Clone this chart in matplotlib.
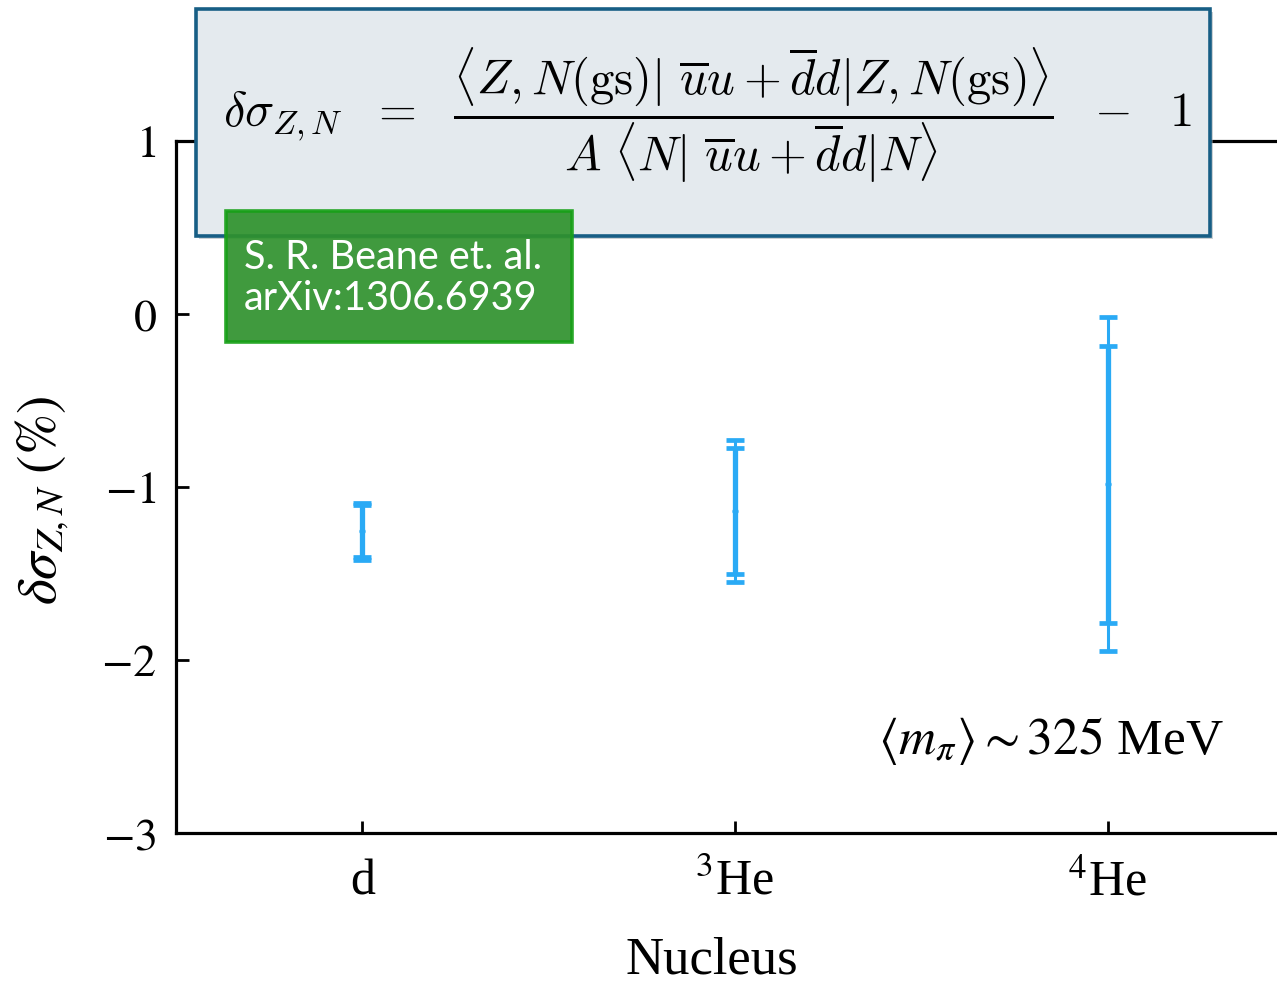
import matplotlib
matplotlib.use("Agg")
import matplotlib.pyplot as plt
from matplotlib.patches import FancyBboxPatch

plt.rcParams['font.family'] = 'serif'
plt.rcParams['font.serif'] = ['Liberation Serif', 'DejaVu Serif']
plt.rcParams['mathtext.fontset'] = 'stix'

# sigma-term shift per nucleus, lattice QCD at m_pi ~ 325 MeV
nuclei = ['d', r'$^{3}$He', r'$^{4}$He']
positions = [1, 2, 3]
shift = [-1.255, -1.14, -0.985]
stat_err = [0.15, 0.365, 0.80]
total_err = [0.165, 0.41, 0.965]

BLUE = '#2aaaf5'

fig = plt.figure(figsize=(12.77, 9.83), dpi=100)
ax = fig.add_axes([0.1378, 0.1526, 0.8755, 0.704])

# outer (total) and inner (statistical) error bars
ax.errorbar(positions, shift, yerr=total_err, fmt='none', ecolor=BLUE,
            elinewidth=2.2, capsize=6.5, capthick=3.4, zorder=3)
ax.errorbar(positions, shift, yerr=stat_err, fmt='o', color=BLUE, ms=3.5,
            ecolor=BLUE, elinewidth=3.8, capsize=6.5, capthick=3.4, zorder=4)

ax.set_xlim(0.5, 3.5)
ax.set_ylim(-3, 1)
ax.set_xticks(positions)
ax.set_xticklabels(nuclei)
ax.set_yticks([-3, -2, -1, 0, 1])
ax.set_yticklabels([r'$-3$', r'$-2$', r'$-1$', r'$0$', r'$1$'])
ax.tick_params(direction='in', length=9, width=2, labelsize=33, pad=14)
ax.tick_params(axis='x', labelsize=36, pad=19)
for side in ['left', 'bottom', 'top']:
    ax.spines[side].set_linewidth(2.3)
ax.spines['right'].set_visible(False)

ax.set_xlabel('Nucleus', fontsize=38)
ax.xaxis.set_label_coords(0.479, -0.150)
ax.set_ylabel(r'$\delta\sigma_{Z,N}\ (\%)$', fontsize=40)
ax.yaxis.set_label_coords(-0.094, 0.481)

ax.text(3.31, -2.47, r'$\langle m_\pi\rangle \sim 325$ MeV', fontsize=37,
        ha='right', va='center')

# definition box
shadow = FancyBboxPatch((0.1555, 0.757), 0.794, 0.231, boxstyle='square,pad=0',
                        transform=fig.transFigure, facecolor='#9aa4ab',
                        edgecolor='none', alpha=0.5, zorder=9)
fig.patches.append(shadow)
box = FancyBboxPatch((0.1535, 0.760), 0.794, 0.231, boxstyle='square,pad=0',
                     transform=fig.transFigure, facecolor='#e4eaee',
                     edgecolor='#175e85', linewidth=2.6, zorder=10)
fig.patches.append(box)
formula = (r'$\delta\sigma_{Z,N}\ \ =\ \ '
           r'\dfrac{\langle Z,N(\mathrm{gs})|\ \overline{u}u+\overline{d}d|Z,N(\mathrm{gs})\rangle}'
           r'{A\ \langle N|\ \overline{u}u+\overline{d}d|N\rangle}\ \ -\ \ 1$')
fig.text(0.554, 0.883, formula, fontsize=35, ha='center', va='center',
         math_fontfamily='cm', zorder=11)

# reference tag
tag = FancyBboxPatch((0.177, 0.652), 0.271, 0.133, boxstyle='square,pad=0',
                     transform=fig.transFigure, facecolor='#2f922d',
                     edgecolor='#17a017', linewidth=2.6, alpha=0.92, zorder=12)
fig.patches.append(tag)
fig.text(0.191, 0.717, 'S. R. Beane et. al.\narXiv:1306.6939', fontsize=28.5,
         family=['Lato', 'DejaVu Sans'], color='white', ha='left',
         va='center', linespacing=1.12, zorder=13)

fig.savefig('out.png', dpi=100)
